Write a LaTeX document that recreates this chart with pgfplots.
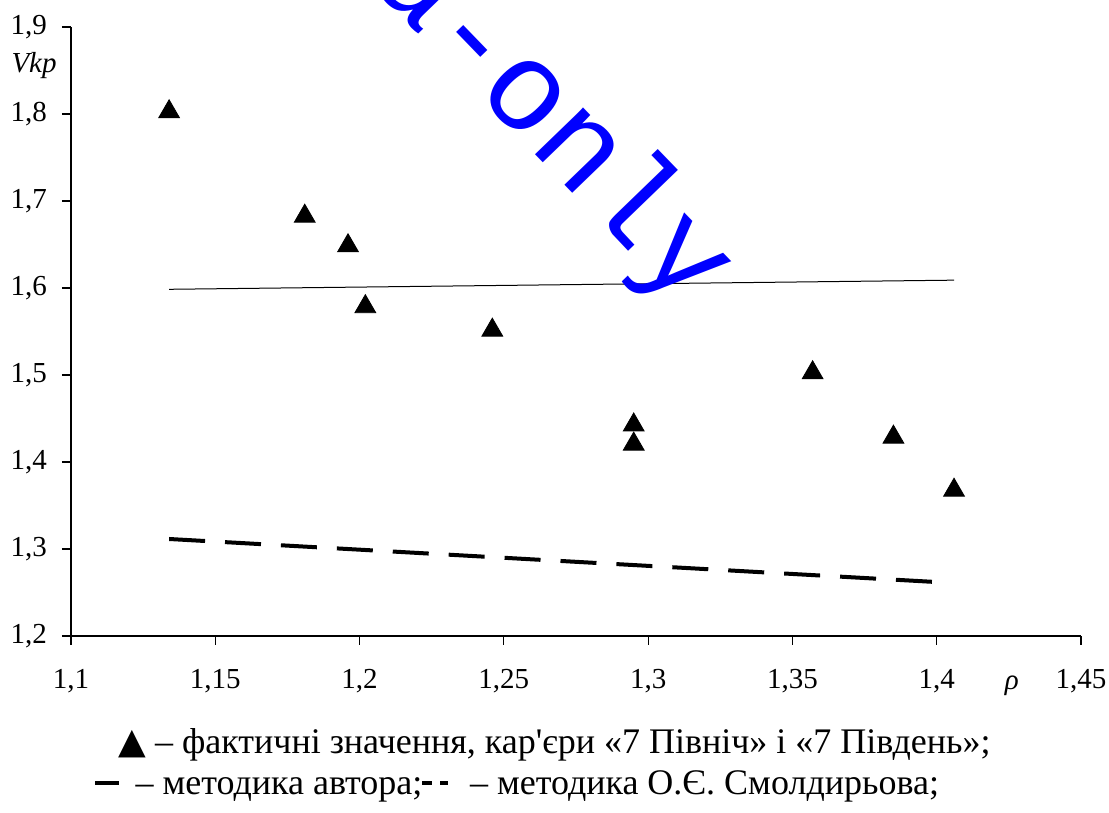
\documentclass[border=0pt]{standalone}
\usepackage{pgfplots}
\pgfplotsset{compat=1.18}
\usepackage{fontspec}
\setmainfont{Liberation Serif}
\newfontfamily\monofont{Liberation Mono}
\newfontfamily\symfont{DejaVu Sans}

\begin{document}
\begin{tikzpicture}[x=0.5pt,y=0.5pt]
\begin{axis}[
  name=ax, at={(0,0)}, anchor=south west,
  scale only axis, width=505pt, height=304.5pt,
  xmin=1.1, xmax=1.45, ymin=1.2, ymax=1.9,
  axis lines=left,
  axis line style={-, line width=0.6pt},
  xtick={1.1,1.15,1.2,1.25,1.3,1.35,1.4,1.45},
  ytick={1.2,1.3,1.4,1.5,1.6,1.7,1.8,1.9},
  tick align=outside, major tick length=4.5pt,
  tick style={black, line width=0.6pt},
  /pgf/number format/use comma,
  /pgf/number format/assume math mode=true,
  tick label style={font=\fontsize{14.5}{17}\selectfont},
  yticklabel style={xshift=-4pt},
  xticklabel style={yshift=-8.5pt},
  clip=false,
]
% measured values: actual pits
\addplot[only marks, mark=triangle*, mark size=6pt, black,
  mark options={yshift=-1.5pt}] coordinates {
  (1.134,1.806) (1.181,1.686) (1.196,1.652) (1.202,1.582) (1.246,1.555)
  (1.295,1.446) (1.295,1.424) (1.357,1.506) (1.385,1.432) (1.406,1.371)
};
% author's method
\addplot[black, line width=0.5pt] coordinates {(1.134,1.5985) (1.406,1.609)};
% Smoldyrev's method
\addplot[black, line width=2pt, dash pattern=on 18pt off 10pt] coordinates {(1.134,1.3115) (1.4,1.262)};

\node[anchor=east, inner sep=0, font=\fontsize{14.5}{17}\selectfont\itshape]
  at (axis cs:1.1,1.856) [xshift=-7pt] {Vkp};
\node[anchor=base, inner sep=0, font=\fontsize{14.5}{17}\selectfont\itshape]
  at (axis cs:1.426,1.2) [yshift=-27pt] {ρ};
\end{axis}

% page origin, 71 px left of and 177 px below the axis corner
\coordinate (O) at ([shift={(-71,-177)}]ax.south west);

\node[anchor=base west, inner sep=0, font=\fontsize{18}{21}\selectfont]
  at ([shift={(118,59)}]O) {{\symfont ▲} – фактичні значення, кар\textquotesingle єри «7 Північ» і «7 Південь»;};
\node[anchor=base west, inner sep=0, font=\fontsize{18}{21}\selectfont]
  at ([shift={(95,18)}]O) {\rule[0.28em]{12pt}{2pt}\hspace{0.45em}– методика автора;\rule[0.28em]{5pt}{2.2pt}\hspace{4pt}\rule[0.28em]{4pt}{2.2pt}\hspace{0.6em}– методика О.Є. Смолдирьова;};

\node[rotate=-46, text=blue, inner sep=0,
  font=\monofont\fontsize{63.5}{70}\selectfont] at ([shift={(551,689)}]O) {a-only};

\pgfresetboundingbox
\path[use as bounding box] (O) rectangle ([shift={(1109,813)}]O);
\end{tikzpicture}
\end{document}
